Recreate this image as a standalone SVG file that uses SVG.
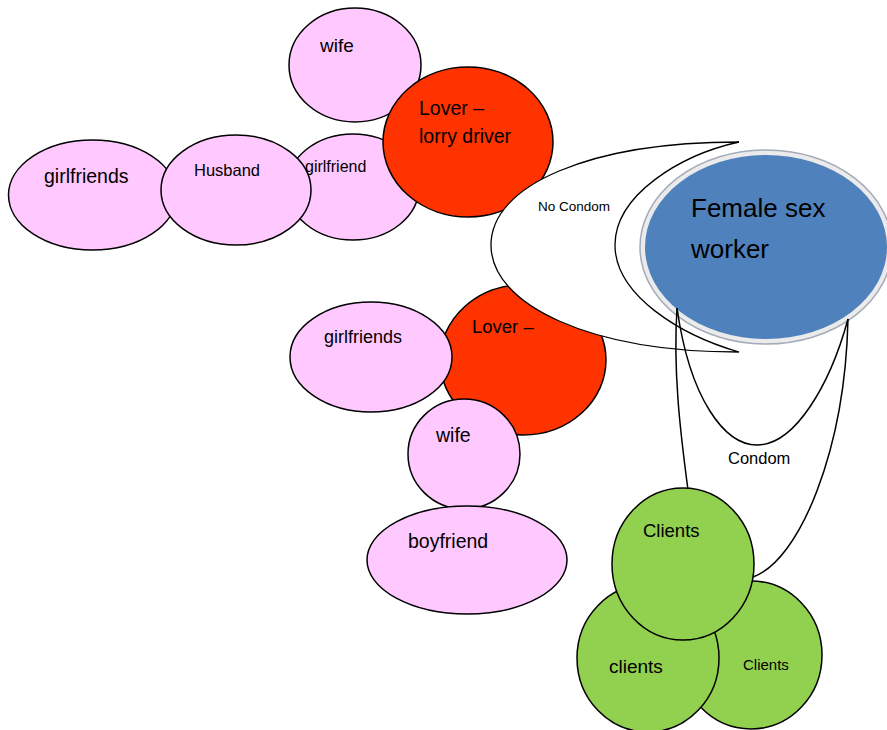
<svg xmlns="http://www.w3.org/2000/svg" width="887" height="730" viewBox="0 0 887 730">
<style>
text{font-family:"Liberation Sans",Arial,sans-serif;fill:#000}
.pink{fill:#ffc9ff;stroke:#000;stroke-width:1.5}
.red{fill:#ff3300;stroke:#000;stroke-width:1.5}
.green{fill:#92d050;stroke:#000;stroke-width:1.5}
.line{fill:none;stroke:#000;stroke-width:1.5}
</style>
<rect width="887" height="730" fill="#fff"/>
<g id="wife-top"><ellipse class="pink" cx="355" cy="65" rx="66" ry="57"/><text x="320" y="52" font-size="19">wife</text></g>
<g id="girlfriend-top"><ellipse class="pink" cx="353" cy="187" rx="66" ry="53"/><text x="305" y="172" font-size="16">girlfriend</text></g>
<g id="girlfriends-left"><ellipse class="pink" cx="92.5" cy="195" rx="84" ry="55"/><text x="44" y="183" font-size="19.5">girlfriends</text></g>
<g id="husband"><ellipse class="pink" cx="236" cy="190" rx="75" ry="55"/><text x="194" y="176" font-size="16.5">Husband</text></g>
<g id="lover-lorry"><ellipse class="red" cx="468" cy="142" rx="85" ry="75"/><text x="419" y="115" font-size="19.5">Lover –</text><text x="419" y="143" font-size="19.5">lorry driver</text></g>
<g id="lover-bottom"><ellipse class="red" cx="523" cy="360" rx="83" ry="75"/><text x="472" y="333" font-size="18.5">Lover –</text></g>
<g id="girlfriends-bottom"><ellipse class="pink" cx="371" cy="357" rx="81" ry="55"/><text x="324" y="343" font-size="18">girlfriends</text></g>
<g id="wife-bottom"><ellipse class="pink" cx="464" cy="454" rx="56" ry="55"/><text x="436" y="442" font-size="19.5">wife</text></g>
<g id="boyfriend"><ellipse class="pink" cx="467" cy="560" rx="100" ry="54"/><text x="408" y="548" font-size="19.5">boyfriend</text></g>
<g id="no-condom"><path d="M739,142 C590,142 491,185 491,245 C491,305 590,352 739,352 C680,335 615,295 615,245 C615,195 680,155 739,142 Z" fill="#fff" stroke="#000" stroke-width="1.3"/><text x="538" y="211" font-size="13.5">No Condom</text></g>
<g id="female-sex-worker"><ellipse cx="766" cy="247" rx="126" ry="97" fill="#ebebeb" stroke="#a3acba" stroke-width="1.5"/><ellipse cx="766" cy="247" rx="121" ry="92" fill="#4f81bd"/><text x="691" y="217" font-size="26">Female sex</text><text x="691" y="258" font-size="26">worker</text></g>
<g id="connectors">
<path class="line" d="M677,308 C673,370 680,430 688,490"/>
<path class="line" d="M677,308 C690,400 725,445 757,445 C795,445 830,385 848,319"/>
<path class="line" d="M753,577 C800,560 845,450 848,319"/>
<text x="728" y="464" font-size="16.5">Condom</text>
</g>
<g id="clients-right"><ellipse class="green" cx="751" cy="655" rx="71" ry="74"/><text x="743" y="670" font-size="15">Clients</text></g>
<g id="clients-left"><ellipse class="green" cx="648" cy="658" rx="71" ry="74"/><text x="609" y="673" font-size="19">clients</text></g>
<g id="clients-top"><ellipse class="green" cx="683" cy="564" rx="71" ry="76"/><text x="643" y="537" font-size="18.5">Clients</text></g>
</svg>
